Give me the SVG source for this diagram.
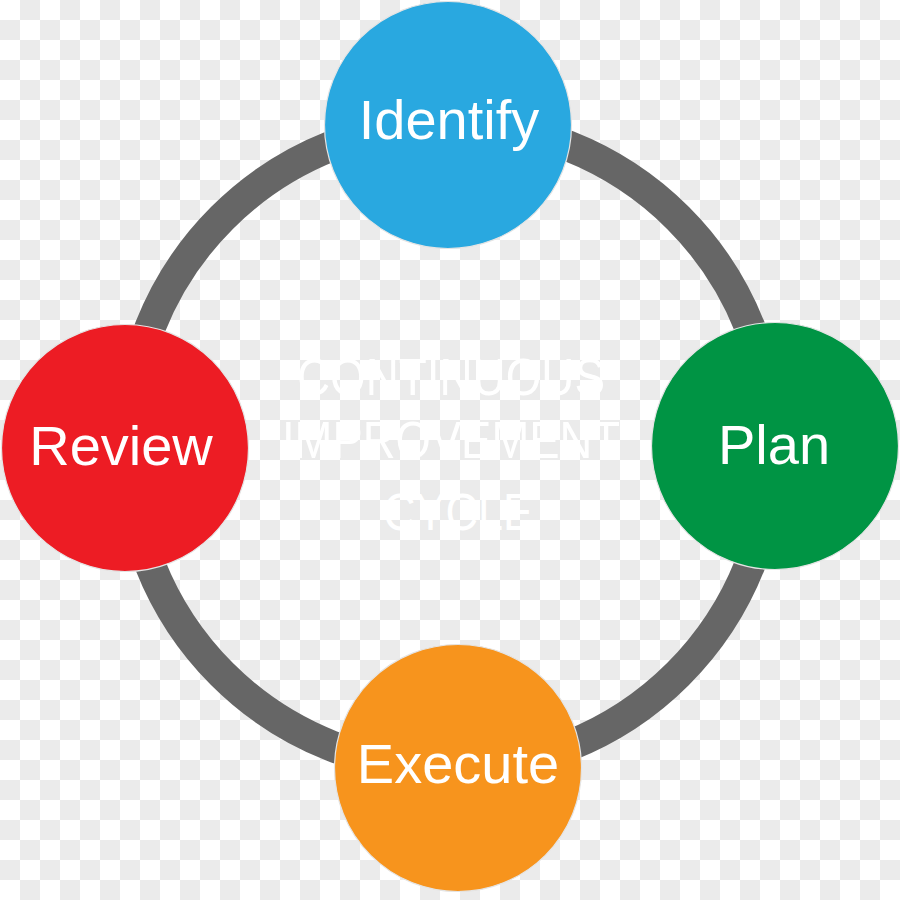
<svg xmlns="http://www.w3.org/2000/svg" width="900" height="900" viewBox="0 0 900 900">
  <defs>
    <pattern id="checker" x="0" y="0" width="40" height="40" patternUnits="userSpaceOnUse">
      <rect x="0" y="0" width="40" height="40" fill="#FFFFFF"/>
      <rect x="20" y="0" width="20" height="20" fill="#EBEBEB"/>
      <rect x="0" y="20" width="20" height="20" fill="#EBEBEB"/>
    </pattern>
  </defs>
  <style>
    .ring { fill: none; stroke: #666666; stroke-width: 31; }
    .node { stroke: #E4E4E4; stroke-width: 1.2; }
    .label { font-family: "Liberation Sans", Arial, sans-serif; font-size: 56px; fill: #FFFFFF; text-anchor: middle; }
    .title { font-family: "Liberation Sans", Arial, sans-serif; font-size: 51px; fill: #FFFFFF; text-anchor: middle; }
  </style>
  <rect x="0" y="0" width="900" height="900" fill="url(#checker)"/>

  <g id="connectors">
    <path class="ring" d="M 450 123.5 A 322.5 322.5 0 0 1 772.5 446"/>
    <path class="ring" d="M 772.5 446 A 322.5 322.5 0 0 1 450 768.5"/>
    <path class="ring" d="M 450 768.5 A 322.5 322.5 0 0 1 127.5 446"/>
    <path class="ring" d="M 127.5 446 A 322.5 322.5 0 0 1 450 123.5"/>
  </g>

  <g id="title">
    <text class="title" x="451" y="395" textLength="308" lengthAdjust="spacingAndGlyphs">CONTINUOUS</text>
    <text class="title" x="451" y="458" textLength="338" lengthAdjust="spacingAndGlyphs">IMPROVEMENT</text>
    <text class="title" x="458" y="530" textLength="150" lengthAdjust="spacingAndGlyphs">CYCLE</text>
  </g>

  <g id="identify">
    <circle class="node" cx="448" cy="125" r="123.5" fill="#29A8E0"/>
    <text class="label" x="449" y="139">Identify</text>
  </g>
  <g id="plan">
    <circle class="node" cx="775" cy="446" r="123.5" fill="#009444"/>
    <text class="label" x="774" y="464">Plan</text>
  </g>
  <g id="execute">
    <circle class="node" cx="458" cy="768" r="123.5" fill="#F7941D"/>
    <text class="label" x="458" y="783">Execute</text>
  </g>
  <g id="review">
    <circle class="node" cx="125" cy="448" r="123.5" fill="#ED1C24"/>
    <text class="label" x="121" y="465">Review</text>
  </g>
</svg>
